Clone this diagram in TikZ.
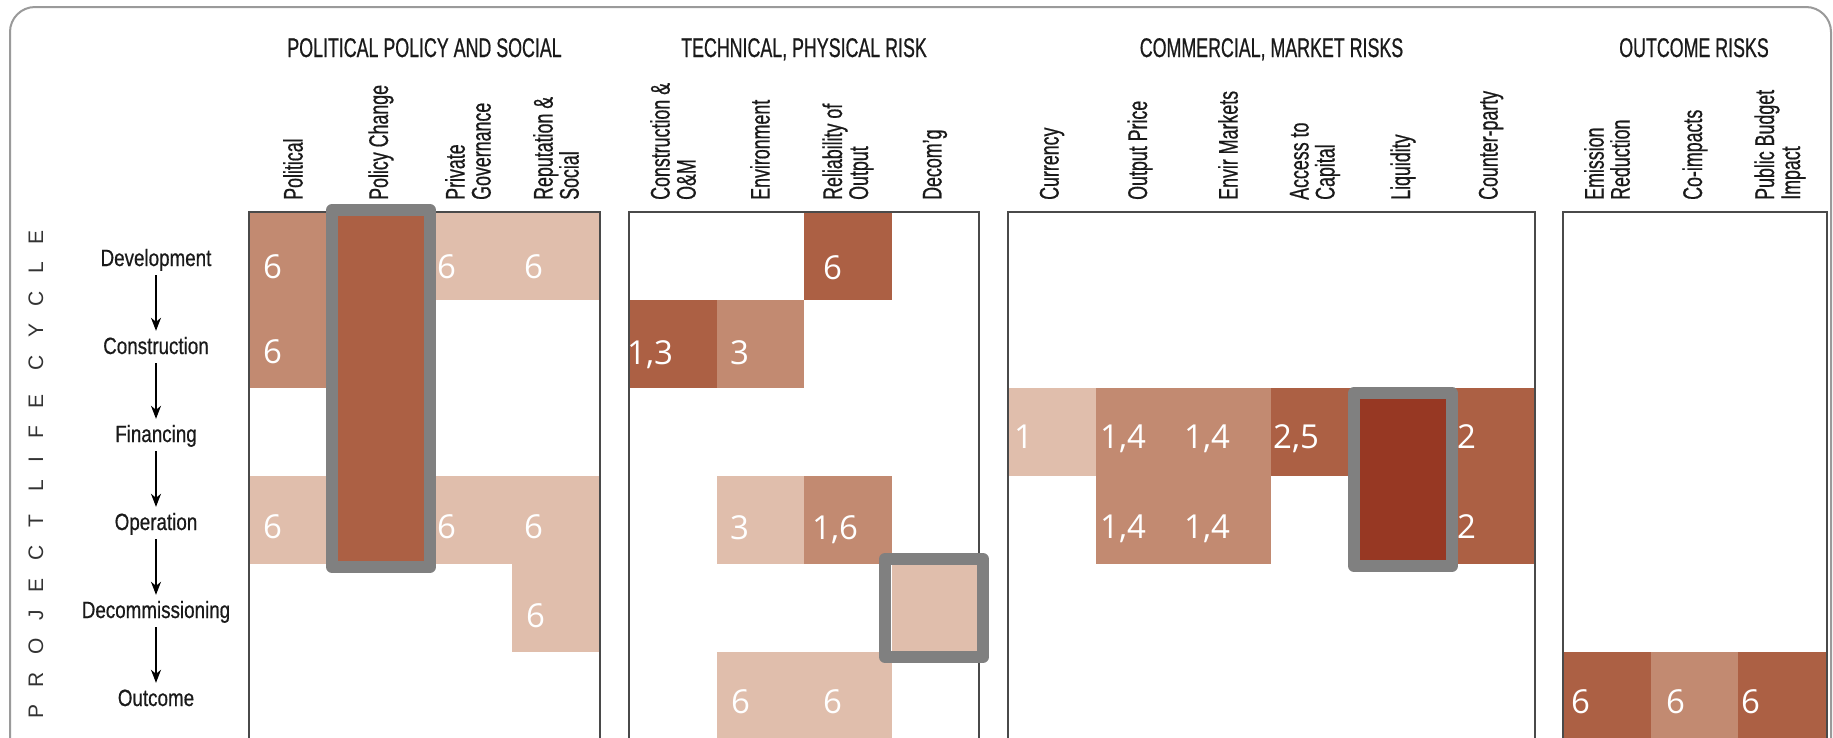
\documentclass[tikz,border=0pt]{standalone}
\usepackage{fontspec}
\usetikzlibrary{arrows.meta}
\newfontfamily\hdfont[FakeStretch=0.66,FakeBold=0.6]{Liberation Sans}
\newfontfamily\rowfont[FakeStretch=0.8,FakeBold=0.6]{Liberation Sans}
\newfontfamily\numfont{Open Sans}
\newfontfamily\plcfont[LetterSpace=84]{Liberation Sans}
\definecolor{cDark}{HTML}{AC6044}
\definecolor{cMed}{HTML}{C28A71}
\definecolor{cLight}{HTML}{E0BEAC}
\definecolor{cDeep}{HTML}{973823}
\definecolor{cHi}{HTML}{808080}
\definecolor{cFrame}{HTML}{9A9A9A}
\definecolor{cBox}{HTML}{4A4A4A}
\definecolor{cText}{HTML}{1A1A1A}
% x0, width, col1, row1, col2, row2, colour
\newcommand\cellblock[7]{\fill[#7] ({#1+#3*#2},{212+#4*88}) rectangle ({#1+(#5+1)*#2},{212+(#6+1)*88});}
\def\xA{249}\def\wA{87.75}
\def\xB{629}\def\wB{87.5}
\def\xC{1008}\def\wC{87.8}
\def\xD{1563}\def\wD{87.7}
\begin{document}
\begin{tikzpicture}[x=1pt,y=-1pt,
  hdr/.style={font=\hdfont\fontsize{27}{27}\selectfont, anchor=base, inner sep=0pt, text=cText},
  collab/.style={font=\hdfont\fontsize{27}{26}\selectfont, rotate=90, anchor=west, align=left, inner sep=0pt, text=cText},
  rowlab/.style={font=\rowfont\fontsize{23.5}{24}\selectfont, anchor=base, inner sep=0pt, text height=18pt, text depth=6pt, text=cText},
  num/.style={font=\numfont\fontsize{33}{33}\selectfont, text=white, anchor=base west, inner sep=0pt},
  hilite/.style={draw=cHi, line width=12pt, line join=round},
  secbox/.style={draw=cBox, line width=1.8pt},
  frame/.style={draw=cFrame, line width=2pt, rounded corners=25pt},
  flow/.style={-{Stealth[length=13pt,width=10pt,inset=4pt]}, line width=1.5pt, shorten <=3pt, shorten >=5pt}
]
\useasboundingbox (0,0) rectangle (1833,737);
\fill[white] (0,0) rectangle (1833,737);
\draw[frame] (10,7) rectangle (1831,800);

% ---- cell fills: Political policy and social
\cellblock{\xA}{\wA}{0}{0}{0}{1}{cMed}
\cellblock{\xA}{\wA}{0}{3}{0}{3}{cLight}
\cellblock{\xA}{\wA}{1}{0}{1}{3}{cDark}
\cellblock{\xA}{\wA}{2}{0}{3}{0}{cLight}
\cellblock{\xA}{\wA}{2}{3}{3}{3}{cLight}
\cellblock{\xA}{\wA}{3}{3}{3}{4}{cLight}
% ---- Technical, physical
\cellblock{\xB}{\wB}{0}{1}{0}{1}{cDark}
\cellblock{\xB}{\wB}{1}{1}{1}{1}{cMed}
\cellblock{\xB}{\wB}{2}{0}{2}{0}{cDark}
\cellblock{\xB}{\wB}{1}{3}{1}{3}{cLight}
\cellblock{\xB}{\wB}{2}{3}{2}{3}{cMed}
\cellblock{\xB}{\wB}{3}{4}{3}{4}{cLight}
\cellblock{\xB}{\wB}{1}{5}{2}{5}{cLight}
% ---- Commercial, market
\cellblock{\xC}{\wC}{0}{2}{0}{2}{cLight}
\cellblock{\xC}{\wC}{1}{2}{2}{3}{cMed}
\cellblock{\xC}{\wC}{3}{2}{3}{2}{cDark}
\cellblock{\xC}{\wC}{4}{2}{4}{3}{cDeep}
\cellblock{\xC}{\wC}{5}{2}{5}{3}{cDark}
% ---- Outcome
\cellblock{\xD}{\wD}{0}{5}{0}{5}{cDark}
\cellblock{\xD}{\wD}{1}{5}{1}{5}{cMed}
\cellblock{\xD}{\wD}{2}{5}{2}{5}{cDark}

% ---- section boxes
\draw[secbox] (249,212) rectangle (600,748);
\draw[secbox] (629,212) rectangle (979,748);
\draw[secbox] (1008,212) rectangle (1535,748);
\draw[secbox] (1563,212) rectangle (1827,748);

% ---- highlight boxes
\draw[hilite] (332,210) rectangle (430,567);
\draw[hilite] (885,559) rectangle (983,657);
\draw[hilite] (1354,393) rectangle (1452,566);

% ---- numbers
\node[num] (n1) at (263,278) {6};
\node[num] (n2) at (263,363) {6};
\node[num] (n3) at (263,538) {6};
\node[num] (n4) at (437,278) {6};
\node[num] (n5) at (437,538) {6};
\node[num] (n6) at (524,278) {6};
\node[num] (n7) at (524,538) {6};
\node[num] (n8) at (526,627) {6};
\node[num] (n9) at (627,364) {1,3};
\node[num] (n10) at (730,364) {3};
\node[num] (n11) at (823,279) {6};
\node[num] (n12) at (730,539) {3};
\node[num] (n13) at (812,539) {1,6};
\node[num] (n14) at (731,713) {6};
\node[num] (n15) at (823,713) {6};
\node[num] (n16) at (1014,448) {1};
\node[num] (n17) at (1100,448) {1,4};
\node[num] (n18) at (1184,448) {1,4};
\node[num] (n19) at (1273,448) {2,5};
\node[num] (n20) at (1457,448) {2};
\node[num] (n21) at (1100,538) {1,4};
\node[num] (n22) at (1184,538) {1,4};
\node[num] (n23) at (1457,538) {2};
\node[num] (n24) at (1571,713) {6};
\node[num] (n25) at (1666,713) {6};
\node[num] (n26) at (1741,713) {6};

% ---- group headers
\node[hdr] (hA) at (424.5,57) {POLITICAL POLICY AND SOCIAL};
\node[hdr] (hB) at (804,57) {TECHNICAL, PHYSICAL RISK};
\node[hdr] (hC) at (1271.5,57) {COMMERCIAL, MARKET RISKS};
\node[hdr] (hD) at (1694,57) {OUTCOME RISKS};

% ---- column labels
\node[collab] (cA1) at (293,200) {Political};
\node[collab] (cA2) at (381,200) {Policy Change};
\node[collab] (cA3) at (468,200) {Private\\Governance};
\node[collab] (cA4) at (556,200) {Reputation \&\\Social};
\node[collab] (cB1) at (673,200) {Construction \&\\O\&M};
\node[collab] (cB2) at (760,200) {Environment};
\node[collab] (cB3) at (848,200) {Reliability of\\Output};
\node[collab] (cB4) at (935,200) {Decom’g};
\node[collab] (cC1) at (1052,200) {Currency};
\node[collab] (cC2) at (1140,200) {Output Price};
\node[collab] (cC3) at (1228,200) {Envir Markets};
\node[collab] (cC4) at (1315,200) {Access to\\Capital};
\node[collab] (cC5) at (1403,200) {Liquidity};
\node[collab] (cC6) at (1491,200) {Counter-party};
\node[collab] (cD1) at (1607,200) {Emission\\Reduction};
\node[collab] (cD2) at (1695,200) {Co-impacts};
\node[collab] (cD3) at (1780,200) {Public Budget\\Impact};

% ---- life cycle
\node[font=\plcfont\fontsize{21}{21}\selectfont, rotate=90, inner sep=0pt, text=black!80] (plc) at (36,474.5) {PROJECT LIFE CYCLE};
\node[rowlab] (dev) at (156,266) {Development};
\node[rowlab] (con) at (156,354) {Construction};
\node[rowlab] (fin) at (156,442) {Financing};
\node[rowlab] (ope) at (156,530) {Operation};
\node[rowlab] (dec) at (156,618) {Decommissioning};
\node[rowlab] (out) at (156,706) {Outcome};
\draw[flow] (dev) -- (con);
\draw[flow] (con) -- (fin);
\draw[flow] (fin) -- (ope);
\draw[flow] (ope) -- (dec);
\draw[flow] (dec) -- (out);
\end{tikzpicture}
\end{document}
